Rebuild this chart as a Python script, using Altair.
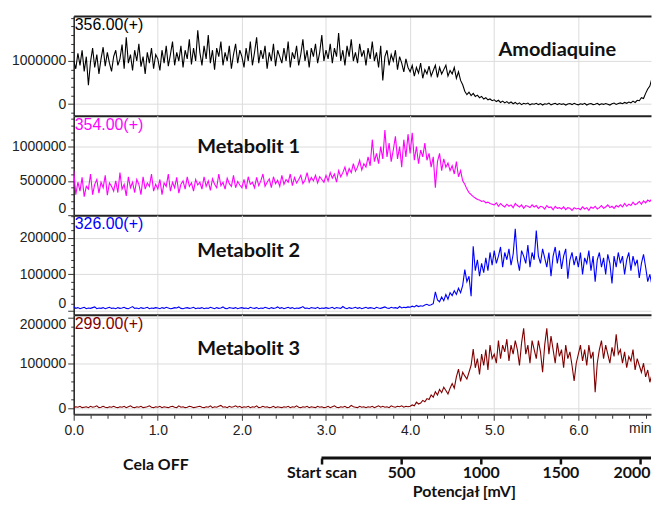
import altair as alt
import pandas as pd

# ---------------- data (in thousands) ----------------
# sampling grid: 280 samples, 0.025 min apart (0.000 ... 6.975 min); one row = 0.5 min
times = [round(i * 0.025, 3) for i in range(280)]

amod_k = [
    1000, 820, 1180, 900, 1250, 760, 1100, 440, 980, 1300, 850, 1150, 700, 1050, 1320, 880, 1200, 950, 760, 1100,
    1250, 900, 1050, 1380, 820, 1550, 950, 1150, 780, 1250, 1000, 1400, 870, 1100, 700, 1200, 950, 1300, 820, 1150,
    1050, 780, 1250, 950, 1350, 880, 1150, 1450, 900, 1200, 1000, 1350, 850, 1250, 1050, 1500, 920, 1300, 1000, 1710,
    1200, 900, 1350, 1050, 1600, 950, 1250, 800, 1300, 1100, 1450, 900, 1200, 1000, 1350, 820, 1150, 1400, 950, 1250,
    1100, 850, 1300, 1000, 1450, 900, 1200, 1550, 950, 1250, 1050, 1350, 820, 1200, 1000, 1400, 880, 1250, 1100, 950,
    1300, 1000, 1450, 850, 1200, 1050, 1350, 900, 1150, 1500, 1000, 1250, 850, 1300, 1100, 1400, 950, 1200, 1600, 1000,
    1250, 1050, 1400, 950, 1300, 1100, 1650, 1000, 1250, 900, 1350, 1100, 1500, 1000, 1200, 950, 1400, 1100, 1250, 900,
    1300, 1050, 1450, 1000, 1200, 850, 1350, 550, 1100, 1250, 900, 1150, 1000, 1250, 800, 1100, 950, 750, 1050, 850,
    750, 900, 650, 850, 720, 950, 600, 800, 700, 880, 650, 780, 900, 620, 850, 700, 800, 900, 650, 780,
    700, 850, 600, 750, 550, 450, 300, 220, 280, 200, 250, 180, 210, 150, 180, 120, 150, 100, 120, 80,
    100, 60, 90, 40, 70, 30, 60, 20, 50, 10, 40, 0, 30, -10, 20, 5, 25, -15, 10, 0,
    20, -10, 15, -20, 10, 0, 25, -15, 5, 20, -10, 15, -5, 10, -20, 5, 15, -10, 20, 0,
    -15, 10, -5, 20, -20, 5, 15, -10, 0, 20, -15, 10, -5, 15, 0, -20, 10, 25, -5, 15,
    30, 10, 40, 20, 50, 30, 70, 40, 90, 80, 150, 130, 250, 350, 420, 600, 650, 550, 600, 500,
]

met1_k = [
    650, 300, 480, 350, 550, 270, 420, 380, 600, 300, 450, 520, 320, 480, 400, 580, 290, 470, 420, 350,
    500, 330, 620, 380, 450, 280, 560, 400, 480, 330, 520, 450, 300, 560, 380, 470, 420, 600, 350, 450,
    380, 520, 300, 470, 420, 600, 350, 480, 400, 550, 320, 450, 500, 380, 560, 420, 470, 350, 520, 440,
    480, 380, 560, 420, 500, 360, 530, 450, 400, 600, 430, 480, 380, 540, 460, 420, 580, 400, 490, 440,
    400, 520, 380, 560, 450, 480, 400, 550, 430, 500, 600, 420, 480, 530, 400, 560, 460, 510, 420, 580,
    450, 520, 480, 600, 430, 550, 470, 520, 580, 460, 510, 620, 480, 550, 500, 580, 470, 560, 520, 480,
    580, 500, 620, 540, 600, 480, 650, 560, 620, 700, 580, 680, 620, 750, 640, 700, 800, 660, 750, 700,
    850, 720, 1100, 780, 900, 750, 1000, 820, 1240, 850, 1050, 780, 950, 1150, 820, 1000, 700, 1100, 850, 1180,
    900, 1200, 800, 1000, 750, 950, 850, 1050, 800, 900, 700, 850, 400, 780, 900, 650, 820, 700, 760, 650,
    720, 600, 780, 560, 650, 500, 450, 380, 330, 300, 270, 250, 230, 220, 200, 210, 180, 190, 170, 160,
    150, 180, 130, 170, 140, 120, 160, 130, 150, 110, 170, 140, 120, 150, 100, 140, 130, 110, 150, 120,
    140, 100, 130, 120, 90, 140, 110, 120, 80, 130, 100, 110, 90, 120, 80, 110, 100, 70, 110, 90,
    100, 80, 120, 90, 110, 70, 120, 100, 130, 90, 110, 140, 100, 120, 150, 110, 130, 100, 140, 120,
    150, 120, 170, 130, 160, 140, 190, 150, 170, 200, 160, 210, 180, 220, 200, 240, 260, 230, 280, 300,
]

met2_k = [
    12, 7, 9, 6, 8, 10, 6, 8, 7, 9, 11, 6, 8, 7, 9, 6, 8, 10, 7, 8,
    6, 9, 7, 8, 10, 7, 6, 9, 12, 7, 8, 6, 9, 7, 8, 10, 6, 8, 7, 9,
    8, 6, 9, 7, 10, 8, 6, 7, 9, 8, 11, 7, 6, 8, 9, 7, 8, 10, 6, 8,
    7, 9, 6, 8, 7, 10, 8, 6, 9, 7, 8, 11, 7, 6, 9, 8, 7, 9, 6, 8,
    9, 7, 8, 6, 10, 8, 7, 9, 6, 8, 7, 10, 8, 6, 9, 7, 8, 11, 7, 9,
    6, 8, 10, 7, 9, 6, 8, 7, 9, 12, 7, 8, 6, 9, 8, 7, 10, 6, 8, 7,
    9, 7, 8, 10, 6, 9, 8, 7, 12, 8, 6, 9, 7, 8, 10, 7, 9, 6, 8, 10,
    7, 9, 8, 6, 10, 8, 7, 9, 11, 8, 7, 10, 8, 9, 7, 12, 8, 10, 9, 11,
    10, 13, 11, 15, 12, 14, 13, 16, 18, 15, 17, 20, 52, 30, 25, 38, 28, 45, 32, 50,
    42, 55, 45, 62, 50, 70, 113, 80, 95, 40, 177, 110, 140, 95, 130, 105, 145, 110, 160, 125,
    165, 130, 150, 175, 120, 160, 140, 170, 125, 155, 225, 140, 110, 165, 150, 130, 180, 120, 160, 140,
    220, 150, 130, 170, 145, 120, 160, 95, 150, 175, 130, 165, 115, 150, 170, 88, 140, 160, 125, 150,
    120, 160, 100, 145, 130, 165, 110, 150, 80, 140, 160, 120, 145, 100, 155, 130, 75, 150, 120, 160,
    130, 150, 100, 140, 160, 110, 150, 125, 140, 90, 130, 155, 120, 80, 100, 70, 85, 60, 75, 50,
]

met3_k = [
    2, 4, 3, 5, 2, 3, 4, 2, 5, 3, 4, 6, 2, 3, 5, 3, 2, 4, 3, 5,
    3, 2, 4, 3, 5, 2, 4, 6, 3, 2, 4, 3, 5, 2, 3, 4, 6, 3, 2, 4,
    3, 5, 2, 4, 3, 2, 4, 5, 3, 2, 6, 3, 4, 2, 3, 5, 4, 2, 3, 4,
    5, 3, 2, 4, 3, 6, 2, 4, 3, 5, 7, 3, 4, 2, 5, 3, 4, 6, 3, 5,
    2, 4, 3, 5, 2, 4, 3, 6, 2, 3, 5, 3, 4, 2, 3, 5, 2, 4, 3, 2,
    4, 3, 5, 2, 4, 3, 6, 3, 2, 4, 3, 5, 2, 4, 3, 2, 5, 3, 4, 2,
    3, 5, 2, 4, 6, 3, 2, 4, 3, 5, 2, 3, 7, 4, 3, 2, 5, 3, 4, 2,
    4, 3, 5, 2, 4, 6, 3, 5, 3, 4, 2, 6, 4, 3, 5, 4, 6, 3, 5, 4,
    5, 8, 6, 14, 10, 12, 18, 15, 22, 20, 30, 25, 37, 30, 42, 35, 47, 40, 32, 45,
    55, 45, 70, 87, 60, 80, 72, 65, 80, 95, 131, 90, 110, 75, 120, 95, 130, 85, 140, 110,
    120, 100, 150, 110, 140, 125, 153, 105, 140, 120, 150, 130, 95, 145, 177, 120, 140, 100, 150, 130,
    110, 150, 125, 80, 140, 177, 120, 160, 130, 100, 145, 115, 130, 90, 140, 110, 125, 95, 61, 100,
    120, 140, 105, 130, 95, 140, 110, 125, 36, 100, 130, 150, 110, 140, 120, 100, 135, 115, 164, 120,
    130, 100, 125, 90, 115, 105, 130, 85, 110, 95, 80, 100, 70, 85, 58, 75, 50, 40, 35, 28,
]

names = ["Amodiaquine", "Metabolit 1", "Metabolit 2", "Metabolit 3"]
ions = ["356.00(+)", "354.00(+)", "326.00(+)", "299.00(+)"]
colors = ["#000000", "#FF00FF", "#0000FF", "#800000"]
series = [amod_k, met1_k, met2_k, met3_k]

# y-axis domains and tick values per panel
y_domains = [[-266000, 2040000], [0, 1450000], [-10400, 262000], [-12600, 207000]]
y_major = [[0, 1000000], [0, 500000, 1000000], [0, 100000, 200000], [0, 100000, 200000]]
y_minor_step = [200000, 100000, 20000, 20000]
y_minor_range = [(-200000, 2000000), (0, 1400000), (0, 260000), (0, 200000)]
# where a major label is pushed inside the panel
y_label_shift = [None, (0, "bottom"), (0, "bottom"), (200000, "top")]

# compound-name annotation positions (time in min, signal value)
name_t = [5.75, 2.08, 2.08, 2.08]
name_v = [1250000, 1000000, 163000, 131000]

# time axis
T_END = 6.864
x_major = [0, 1, 2, 3, 4, 5, 6]
x_ticks = [round(i * 0.2, 1) for i in range(35)] + [T_END]

# potential scale (mV)
pot_ticks = [0, 500, 1000, 1500, 2000]
pot_domain = [-1556, 2069]
pot_line = [0, 2069]
cela_pos = [-1040]

W = 580
H = 100
LABEL_FONT = "Liberation Sans"
BOLD_FONT = "Lato"
EDGE = "#222"
GRID = "#dcdcdc"

x_scale = alt.Scale(domain=[0, T_END], nice=False, zero=False)


def x_axis(last):
    if not last:
        return alt.Axis(values=x_major, labels=False, ticks=False, domain=True,
                        domainColor=EDGE, domainWidth=2,
                        title=None, grid=True, gridColor=GRID)
    major = "abs(datum.value - round(datum.value)) < 0.01"
    end = f"datum.value > {T_END - 0.01}"
    return alt.Axis(
        values=x_ticks, title=None, grid=True, gridColor=GRID,
        gridOpacity={"condition": {"test": major, "value": 1}, "value": 0},
        tickSize={"condition": {"test": major, "value": 6}, "value": 4},
        tickOpacity={"condition": {"test": end, "value": 0}, "value": 1},
        labelAlign={"condition": {"test": end, "value": "right"}, "value": "center"},
        labelExpr=f"{end} ? 'min' : (abs(datum.value - round(datum.value)) < 0.01 ? format(datum.value, '.1f') : '')",
        labelFlush=False, labelPadding=3, domainWidth=2, domainColor="#444",
    )


top_axis = alt.Axis(orient="top", labels=False, ticks=False, grid=False, title=None,
                    domain=True, domainColor=EDGE, domainWidth=2)


def y_axis(i):
    majors = y_major[i]
    test = " || ".join(f"datum.value === {m}" for m in majors)
    lo, hi = y_minor_range[i]
    vals = list(range(lo, hi + 1, y_minor_step[i]))
    kw = {}
    if y_label_shift[i] is not None:
        v, b = y_label_shift[i]
        kw["labelBaseline"] = {"condition": {"test": f"datum.value === {v}", "value": b}, "value": "middle"}
    return alt.Axis(
        values=vals, format="d", title=None, grid=True, gridColor=GRID,
        gridOpacity={"condition": {"test": test, "value": 1}, "value": 0},
        tickSize={"condition": {"test": test, "value": 6}, "value": 3},
        labelExpr=f"({test}) ? datum.label : ''",
        labelFlush=False, labelPadding=2, domainWidth=1.5, domainColor="#222",
        **kw,
    )


panels = []
for i in range(4):
    last = i == 3
    df = pd.DataFrame({"t": times, "v": [k * 1000 for k in series[i]]})
    xe = alt.X("t:Q", scale=x_scale, axis=x_axis(last))
    ye = alt.Y("v:Q", scale=alt.Scale(domain=y_domains[i], nice=False, zero=False), axis=y_axis(i))
    if i == 0:
        xe_name = alt.X("t:Q", scale=x_scale, axis=None)
        xe_ion = alt.X("t:Q", scale=x_scale, axis=top_axis)
    else:
        xe_name = xe
        xe_ion = xe
    line = alt.Chart(df).mark_line(color=colors[i], strokeWidth=1.1, clip=True).encode(x=xe, y=ye)
    nm = alt.Chart(pd.DataFrame({"t": [name_t[i]], "v": [name_v[i]], "label": [names[i]]})).mark_text(
        font=BOLD_FONT, fontWeight="bold", fontSize=20, color="#111", align="center", baseline="middle"
    ).encode(x=xe_name, y=ye, text="label:N")
    ion = alt.Chart(pd.DataFrame({"t": [0.0], "v": [y_domains[i][1]], "label": [ions[i]]})).mark_text(
        font=LABEL_FONT, fontSize=16, color=colors[i], align="left", baseline="top", dx=1, dy=1
    ).encode(x=xe_ion, y=ye, text="label:N")
    p = alt.layer(line, nm, ion).properties(width=W, height=H)
    if i == 0:
        p = p.resolve_axis(x="independent")
    panels.append(p)

# potential (mV) axis below the time axis
pot_scale = alt.Scale(domain=pot_domain, nice=False, zero=False)
pot_axis = alt.Axis(
    values=pot_ticks, orient="bottom", domain=False, grid=False,
    tickSize=6, tickWidth=2.5, tickColor="#111",
    labelExpr="datum.value === 0 ? 'Start scan' : datum.label", format="d",
    labelFont=BOLD_FONT, labelFontWeight="bold", labelFontSize=16, labelColor="#111",
    labelPadding=1, labelFlush=30, labelFlushOffset=10,
    title="Potencjał [mV]", titleFont=BOLD_FONT, titleFontWeight="bold", titleFontSize=16,
    titleColor="#111", titleX=392, titlePadding=3,
)
PH = 44
rule = alt.Chart(pd.DataFrame({"p": [pot_line[0]], "p2": [pot_line[1]]})).mark_rule(
    color="#111", strokeWidth=3
).encode(x=alt.X("p:Q", scale=pot_scale, axis=pot_axis), x2="p2:Q", y=alt.value(PH))
cela = alt.Chart(pd.DataFrame({"p": cela_pos, "label": ["Cela OFF"]})).mark_text(
    font=BOLD_FONT, fontWeight="bold", fontSize=16, color="#111", align="center", baseline="middle"
).encode(x=alt.X("p:Q", scale=pot_scale, axis=pot_axis), y=alt.value(PH + 7), text="label:N")
pot = alt.layer(rule, cela).properties(width=W, height=PH)

chart = alt.vconcat(*panels, pot, spacing=0, bounds="flush").properties(
    padding={"left": 2, "top": 6, "right": 0, "bottom": 0}
).configure_view(stroke="transparent").configure_axis(
    labelFont=LABEL_FONT, labelFontSize=14, labelColor="#222", tickColor="#333"
)

chart.save("out.html", embed_options={"renderer": "svg", "actions": False})
